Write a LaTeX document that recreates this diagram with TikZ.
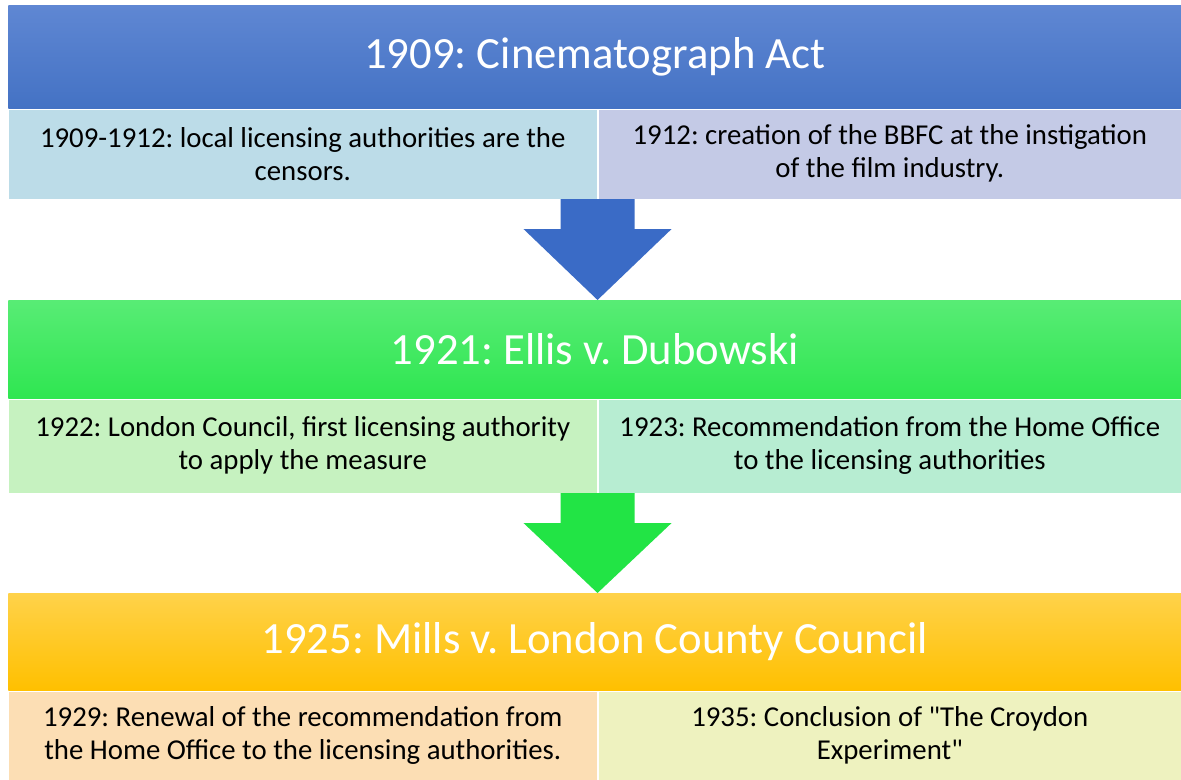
\documentclass[tikz,border=0pt]{standalone}
\usepackage{fontspec}
\setmainfont{Carlito}
\usetikzlibrary{calc}
\frenchspacing

\definecolor{blueTop}{HTML}{5F87D3}
\definecolor{blueBot}{HTML}{4472C4}
\definecolor{greenTop}{HTML}{58EC75}
\definecolor{greenBot}{HTML}{2FE651}
\definecolor{orangeTop}{HTML}{FFD24A}
\definecolor{orangeBot}{HTML}{FFC000}
\definecolor{subBlueL}{HTML}{BCDCE8}
\definecolor{subBlueR}{HTML}{C4CAE6}
\definecolor{subGreenL}{HTML}{C6F2C0}
\definecolor{subGreenR}{HTML}{B7EDD2}
\definecolor{subOrangeL}{HTML}{FCDEB4}
\definecolor{subOrangeR}{HTML}{EEF2BF}
\definecolor{arrowBlue}{HTML}{3A6BC6}
\definecolor{arrowGreen}{HTML}{22E445}

\tikzset{
    bar/.style={rectangle, inner sep=0pt, minimum width=879.75pt, anchor=north west,
        text=white, font=\fontsize{33.5}{38}\selectfont},
    subbox/.style={rectangle, inner sep=0pt, anchor=north west, align=center,
        draw=white, line width=0.4pt, font=\fontsize{21.6}{24.75}\selectfont}
}

% draws the thick down arrow from a sub row to the next bar
\newcommand{\flowarrow}[3]{%
    \fill[#3] ($(#1)+(-37,0)$) -- ($(#1)+(-37,30)$) -- ($(#1)+(-74,30)$) -- (#2)
        -- ($(#1)+(74,30)$) -- ($(#1)+(37,30)$) -- ($(#1)+(37,0)$) -- cycle;
}

\begin{document}
\begin{tikzpicture}[x=0.75pt, y=-0.75pt]
    \useasboundingbox (0,0) rectangle (1181,780);

    % 1909
    \node[bar, minimum height=77.25pt, top color=blueTop, bottom color=blueBot] (b1) at (8,5) {1909: Cinematograph Act};
    \node[subbox, minimum width=441.75pt, minimum height=67.5pt, fill=subBlueL] (s1l) at (b1.south west)
        {1909-1912: local licensing authorities are the\\censors.};
    \node[subbox, minimum width=438pt, minimum height=67.5pt, fill=subBlueR] (s1r) at (s1l.north east)
        {1912: creation of the BBFC at the instigation\\of the film industry.};

    % 1921
    \node[bar, minimum height=73.5pt, top color=greenTop, bottom color=greenBot] (b2) at (8,300) {1921: Ellis v. Dubowski};
    \node[subbox, minimum width=441.75pt, minimum height=70.5pt, fill=subGreenL] (s2l) at (b2.south west)
        {1922: London Council, first licensing authority\\to apply the measure};
    \node[subbox, minimum width=438pt, minimum height=70.5pt, fill=subGreenR] (s2r) at (s2l.north east)
        {1923: Recommendation from the Home Office\\to the licensing authorities};

    % 1925
    \node[bar, minimum height=72.75pt, top color=orangeTop, bottom color=orangeBot] (b3) at (8,593) {1925: Mills v. London County Council};
    \node[subbox, minimum width=441.75pt, minimum height=67.5pt, fill=subOrangeL] (s3l) at (b3.south west)
        {1929: Renewal of the recommendation from\\the Home Office to the licensing authorities.};
    \node[subbox, minimum width=438pt, minimum height=67.5pt, fill=subOrangeR] (s3r) at (s3l.north east)
        {1935: Conclusion of \textquotedbl The Croydon\\Experiment\textquotedbl};

    % arrows
    \coordinate (tip1) at (s1l.south east |- b2.north);
    \coordinate (tip2) at (s2l.south east |- b3.north);
    \flowarrow{s1l.south east}{tip1}{arrowBlue}
    \flowarrow{s2l.south east}{tip2}{arrowGreen}
\end{tikzpicture}
\end{document}
